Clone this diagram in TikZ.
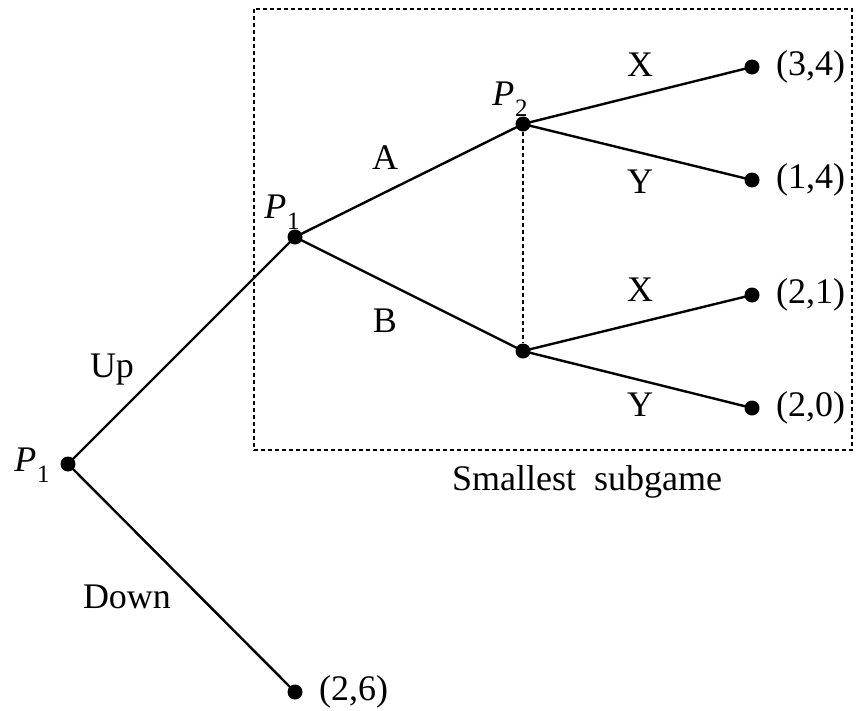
\documentclass[tikz,border=0pt]{standalone}
\usepackage{fontspec}
\setmainfont{Liberation Serif}
\newcommand\Pl[1]{\textit{P}\kern1pt\raisebox{-0.3em}{\fontsize{25}{25}\selectfont #1}}
\begin{document}
\begin{tikzpicture}[x=1pt,y=-1pt,
  dot/.style={circle,fill=black,inner sep=0pt,minimum size=15pt},
  edge/.style={line width=2.4pt},
  dots/.style={line width=1.8pt,dash pattern=on 4pt off 3pt},
  lbl/.style={font=\fontsize{36}{38}\selectfont,inner sep=0pt},
  pay/.style={lbl,anchor=west}]
\useasboundingbox (0,0) rectangle (857,710);
\draw[dots] (254,9) rectangle (852,450);
\node[dot] (r) at (68,464) {};
\node[dot] (n1) at (295,237) {};
\node[dot] (p2) at (523,124) {};
\node[dot] (n3) at (523,351) {};
\node[dot] (t1) at (752,67) {};
\node[dot] (t2) at (752,180) {};
\node[dot] (t3) at (752,295) {};
\node[dot] (t4) at (752,408) {};
\node[dot] (t0) at (295,692) {};
\draw[edge] (r.center) -- (n1.center);
\draw[edge] (r.center) -- (t0.center);
\draw[edge] (n1.center) -- (p2.center);
\draw[edge] (n1.center) -- (n3.center);
\draw[edge] (p2.center) -- (t1.center);
\draw[edge] (p2.center) -- (t2.center);
\draw[edge] (n3.center) -- (t3.center);
\draw[edge] (n3.center) -- (t4.center);
\draw[dots] (p2) -- (n3);
\node[lbl] (lr) at (32,465) {\Pl{1}};
\node[lbl] (ln1) at (282,212) {\Pl{1}};
\node[lbl] (lp2) at (510,99) {\Pl{2}};
\node[pay] (v1) at (776,67) {(3,4)};
\node[pay] (v2) at (776,180) {(1,4)};
\node[pay] (v3) at (776,295) {(2,1)};
\node[pay] (v4) at (776,408) {(2,0)};
\node[pay] (v0) at (319,692) {(2,6)};
\node[lbl] (up) at (112,370) {Up};
\node[lbl] (down) at (127,597) {Down};
\node[lbl] (a) at (385,158) {A};
\node[lbl] (b) at (385,321) {B};
\node[lbl] (x1) at (640,65) {X};
\node[lbl] (y1) at (640,182) {Y};
\node[lbl] (x2) at (640,290) {X};
\node[lbl] (y2) at (640,405) {Y};
\node[lbl] (sg) at (587,482) {Smallest\hspace{18pt}subgame};
\end{tikzpicture}
\end{document}
